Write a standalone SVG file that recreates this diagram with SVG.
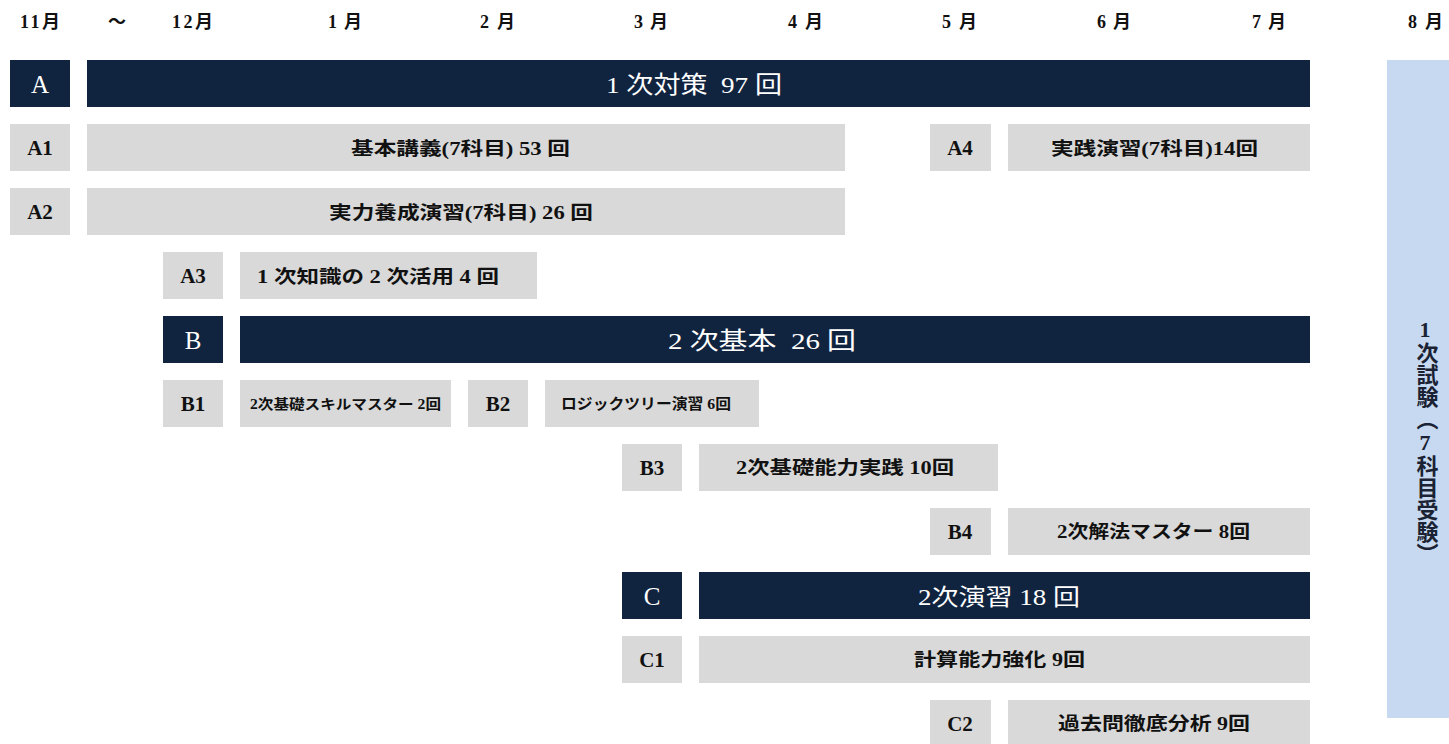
<svg xmlns="http://www.w3.org/2000/svg" width="1449" height="744" viewBox="0 0 1449 744">
<style>
text{font-family:"Liberation Serif","Noto Sans CJK JP",serif;white-space:pre;}
.mon{font-size:18px;font-weight:bold;fill:#111;}
.navy{fill:#11243f;}
.gray{fill:#d9d9d9;}
.nl{font-size:25px;fill:#fff;text-anchor:middle;}
.gl{font-size:21px;font-weight:bold;fill:#111;text-anchor:middle;}
.nt{font-size:24px;fill:#fff;}
.gt{font-size:18px;font-weight:bold;fill:#111;}
.vt{font-size:22px;font-weight:bold;fill:#1a2233;writing-mode:vertical-rl;text-orientation:upright;}
</style>
<rect width="1449" height="744" fill="#fff"/>
<g id="months">
<text class="mon" x="20" y="28" textLength="40" lengthAdjust="spacing">11月</text>
<text class="mon" x="108" y="28">～</text>
<text class="mon" x="172" y="28" textLength="41" lengthAdjust="spacing">12月</text>
<text class="mon" x="328" y="28" textLength="34" lengthAdjust="spacing">1 月</text>
<text class="mon" x="480" y="28" textLength="35" lengthAdjust="spacing">2 月</text>
<text class="mon" x="634" y="28" textLength="34" lengthAdjust="spacing">3 月</text>
<text class="mon" x="788" y="28" textLength="35" lengthAdjust="spacing">4 月</text>
<text class="mon" x="942" y="28" textLength="35" lengthAdjust="spacing">5 月</text>
<text class="mon" x="1097" y="28" textLength="34" lengthAdjust="spacing">6 月</text>
<text class="mon" x="1252" y="28" textLength="34" lengthAdjust="spacing">7 月</text>
<text class="mon" x="1408" y="28" textLength="35" lengthAdjust="spacing">8 月</text>
</g>
<g id="connectors"></g>
<g id="nodeA">
<rect class="navy" x="10" y="60" width="60" height="47"/>
<text class="nl" x="40" y="93">A</text>
<rect class="navy" x="87" y="60" width="1223" height="47"/>
<text class="nt" x="606" y="93" textLength="176" lengthAdjust="spacingAndGlyphs">1 次対策  97 回</text>
</g>
<g id="nodeA1">
<rect class="gray" x="10" y="124" width="60" height="47"/>
<text class="gl" x="40" y="155">A1</text>
<rect class="gray" x="87" y="124" width="758" height="47"/>
<text class="gt" x="351" y="155" textLength="219" lengthAdjust="spacingAndGlyphs">基本講義(7科目) 53 回</text>
</g>
<g id="nodeA4">
<rect class="gray" x="930" y="124" width="61" height="47"/>
<text class="gl" x="960" y="155">A4</text>
<rect class="gray" x="1008" y="124" width="302" height="47"/>
<text class="gt" x="1051" y="155" textLength="207" lengthAdjust="spacingAndGlyphs">実践演習(7科目)14回</text>
</g>
<g id="nodeA2">
<rect class="gray" x="10" y="188" width="60" height="47"/>
<text class="gl" x="40" y="219">A2</text>
<rect class="gray" x="87" y="188" width="758" height="47"/>
<text class="gt" x="329" y="219" textLength="264" lengthAdjust="spacingAndGlyphs">実力養成演習(7科目) 26 回</text>
</g>
<g id="nodeA3">
<rect class="gray" x="163" y="252" width="60" height="47"/>
<text class="gl" x="193" y="283">A3</text>
<rect class="gray" x="240" y="252" width="297" height="47"/>
<text class="gt" x="257" y="283" textLength="242" lengthAdjust="spacingAndGlyphs">1 次知識の 2 次活用 4 回</text>
</g>
<g id="nodeB">
<rect class="navy" x="163" y="316" width="60" height="47"/>
<text class="nl" x="193" y="349">B</text>
<rect class="navy" x="240" y="316" width="1070" height="47"/>
<text class="nt" x="668" y="349" textLength="188" lengthAdjust="spacingAndGlyphs">2 次基本  26 回</text>
</g>
<g id="nodeB1">
<rect class="gray" x="163" y="380" width="60" height="47"/>
<text class="gl" x="193" y="411">B1</text>
<rect class="gray" x="240" y="380" width="211" height="47"/>
<text class="gt" x="250" y="409" style="font-size:14px" textLength="191" lengthAdjust="spacingAndGlyphs">2次基礎スキルマスター 2回</text>
</g>
<g id="nodeB2">
<rect class="gray" x="468" y="380" width="60" height="47"/>
<text class="gl" x="498" y="411">B2</text>
<rect class="gray" x="545" y="380" width="214" height="47"/>
<text class="gt" x="561" y="409" style="font-size:15px" textLength="170" lengthAdjust="spacingAndGlyphs">ロジックツリー演習 6回</text>
</g>
<g id="nodeB3">
<rect class="gray" x="622" y="444" width="60" height="47"/>
<text class="gl" x="652" y="475">B3</text>
<rect class="gray" x="699" y="444" width="299" height="47"/>
<text class="gt" x="736" y="474" textLength="218" lengthAdjust="spacingAndGlyphs">2次基礎能力実践 10回</text>
</g>
<g id="nodeB4">
<rect class="gray" x="930" y="508" width="61" height="47"/>
<text class="gl" x="960" y="539">B4</text>
<rect class="gray" x="1008" y="508" width="302" height="47"/>
<text class="gt" x="1057" y="538" textLength="193" lengthAdjust="spacingAndGlyphs">2次解法マスター 8回</text>
</g>
<g id="nodeC">
<rect class="navy" x="622" y="572" width="60" height="47"/>
<text class="nl" x="652" y="605">C</text>
<rect class="navy" x="699" y="572" width="611" height="47"/>
<text class="nt" x="918" y="605" style="font-size:23px" textLength="162" lengthAdjust="spacingAndGlyphs">2次演習 18 回</text>
</g>
<g id="nodeC1">
<rect class="gray" x="622" y="636" width="60" height="47"/>
<text class="gl" x="652" y="667">C1</text>
<rect class="gray" x="699" y="636" width="611" height="47"/>
<text class="gt" x="914" y="666" textLength="171" lengthAdjust="spacingAndGlyphs">計算能力強化 9回</text>
</g>
<g id="nodeC2">
<rect class="gray" x="930" y="700" width="61" height="47"/>
<text class="gl" x="960" y="731">C2</text>
<rect class="gray" x="1008" y="700" width="302" height="47"/>
<text class="gt" x="1058" y="730" textLength="192" lengthAdjust="spacingAndGlyphs">過去問徹底分析 9回</text>
</g>
<g id="exam">
<rect x="1387" y="60" width="62" height="658" fill="#c6d9f0"/>
<text class="vt" x="1425" y="317">1次試験（7科目受験）</text>
</g>
</svg>
